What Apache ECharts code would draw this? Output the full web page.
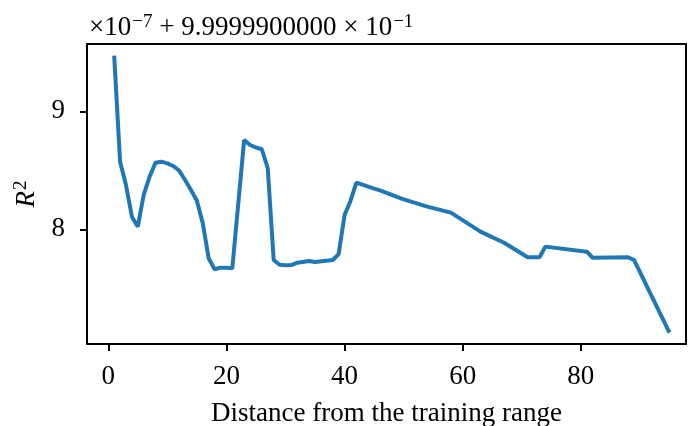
<!DOCTYPE html>
<html>
<head>
<meta charset="utf-8">
<script src="https://cdn.jsdelivr.net/npm/echarts@6/dist/echarts.min.js"></script>
<style>
  html, body { margin: 0; padding: 0; background: #fff; }
  #chart { width: 689px; height: 426px; }
</style>
</head>
<body>
<div id="chart"></div>
<script>
// distance from training range
var distance = [1, 2, 3, 4, 5, 6, 7, 8, 9, 10, 11, 12, 13, 14, 15, 16, 17, 18, 19, 20, 21,
  23, 24, 25, 26, 27, 28, 29, 30, 31, 32, 34, 35, 38, 39, 40, 41, 42, 45, 46, 50, 54, 58,
  63, 67, 71, 73, 74, 81, 82, 88, 89, 95]
// R^2, in units of 1e-7 above 0.999999
var r2 = [9.471, 8.573, 8.375, 8.107, 8.022, 8.291, 8.446, 8.564, 8.573, 8.559, 8.536, 8.497,
  8.418, 8.333, 8.242, 8.051, 7.754, 7.661, 7.675, 7.675, 7.669,
  8.757, 8.714, 8.693, 8.678, 8.517, 7.740, 7.700, 7.695, 7.697, 7.717, 7.731, 7.723,
  7.740, 7.790, 8.121, 8.240, 8.395, 8.345, 8.330, 8.254, 8.192, 8.141,
  7.980, 7.886, 7.763, 7.763, 7.853, 7.810, 7.759, 7.763, 7.740, 7.124]
var xTicks = [0, 20, 40, 60, 80]
var yTicks = [8, 9]

var serif = '"Liberation Serif", "DejaVu Serif", serif'
var xMin = -3.6, xMax = 97.8
var yMin = 7.028, yMax = 9.57
var spine = { show: true, onZero: false, lineStyle: { color: '#000', width: 2 } }

var chart = echarts.init(document.getElementById('chart'))

chart.setOption({
  animation: false,
  backgroundColor: '#fff',
  title: {
    left: 84,
    top: 8,
    text: '{a|×10}{s|−7}{a| + 9.9999900000 × 10}{s|−1}',
    textStyle: {
      fontWeight: 'normal',
      rich: {
        a: { fontFamily: serif, fontWeight: 'normal', fontSize: 27, color: '#000', lineHeight: 30 },
        s: { fontFamily: serif, fontWeight: 'normal', fontSize: 19, color: '#000', verticalAlign: 'top', padding: [0, 0, 10, 1] }
      }
    }
  },
  grid: {
    left: 87,
    right: 3,
    top: 44,
    bottom: 82,
    outerBoundsMode: 'none'
  },
  xAxis: [{
    type: 'value',
    min: xMin,
    max: xMax,
    name: 'Distance from the training range',
    nameLocation: 'middle',
    nameGap: 56,
    nameTextStyle: { fontFamily: serif, fontSize: 27, color: '#000' },
    axisLine: spine,
    axisTick: { customValues: xTicks, length: 7, lineStyle: { color: '#000', width: 2 } },
    axisLabel: { customValues: xTicks, fontFamily: serif, fontSize: 27, color: '#000', margin: 19 },
    splitLine: { show: false }
  }, {
    type: 'value',
    position: 'top',
    min: xMin,
    max: xMax,
    axisLine: spine,
    axisTick: { show: false },
    axisLabel: { show: false },
    splitLine: { show: false }
  }],
  yAxis: [{
    type: 'value',
    min: yMin,
    max: yMax,
    name: '{i|R}{s|2}',
    nameLocation: 'middle',
    nameRotate: 90,
    nameGap: 46,
    nameTextStyle: {
      rich: {
        i: { fontFamily: serif, fontStyle: 'italic', fontSize: 27, color: '#000' },
        s: { fontFamily: serif, fontSize: 19, color: '#000', verticalAlign: 'top', padding: [0, 0, 10, 1] }
      }
    },
    axisLine: spine,
    axisTick: { show: true, customValues: yTicks, length: 7, lineStyle: { color: '#000', width: 2 } },
    axisLabel: { customValues: yTicks, fontFamily: serif, fontSize: 27, color: '#000', margin: 22, padding: [4, 0, 0, 0] },
    splitLine: { show: false }
  }, {
    type: 'value',
    position: 'right',
    min: yMin,
    max: yMax,
    axisLine: spine,
    axisTick: { show: false },
    axisLabel: { show: false },
    splitLine: { show: false }
  }],
  series: [{
    type: 'line',
    data: distance.map(function (d, i) { return [d, r2[i]] }),
    showSymbol: false,
    lineStyle: { color: '#1f77b4', width: 4 },
    itemStyle: { color: '#1f77b4' }
  }]
})
</script>
</body>
</html>
